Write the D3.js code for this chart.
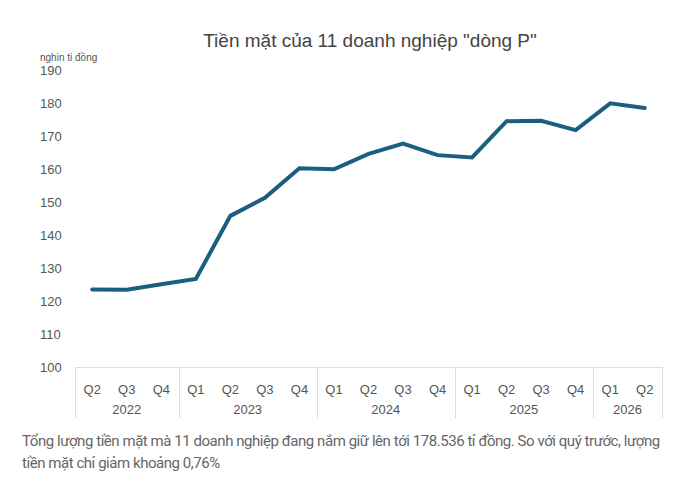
<!DOCTYPE html>
<html>
<head>
<meta charset="utf-8">
<script src="https://cdn.jsdelivr.net/npm/d3@7"></script>
<style>
  html, body { margin: 0; padding: 0; background: #fff; }
  #chart { width: 693px; height: 481px; position: relative; }
  .note {
    position: absolute; left: 22px; top: 430px; width: 662px;
    font-family: "Roboto", "Liberation Sans", sans-serif;
    font-size: 15px; line-height: 22px; color: #666;
    letter-spacing: -0.45px;
  }
</style>
</head>
<body>
<div id="chart"></div>
<script>
// Dữ liệu: tiền mặt (nghìn tỉ đồng) theo quý
const quarters = ["Q2","Q3","Q4","Q1","Q2","Q3","Q4","Q1","Q2","Q3","Q4","Q1","Q2","Q3","Q4","Q1","Q2"];
const years    = ["2022","2022","2022","2023","2023","2023","2023","2024","2024","2024","2024","2025","2025","2025","2025","2026","2026"];
const cash     = [123.5, 123.4, 125.1, 126.7, 145.8, 151.3, 160.2, 159.9, 164.6, 167.7, 164.2, 163.5, 174.5, 174.6, 171.8, 179.9, 178.5];
const yTicks   = [100, 110, 120, 130, 140, 150, 160, 170, 180, 190];

const W = 693, H = 481;
const margin = { top: 70, right: 31, bottom: 114, left: 75 };
const width  = W - margin.left - margin.right;
const height = H - margin.top - margin.bottom;

const root = d3.select("#chart");
const svg = root.append("svg").attr("width", W).attr("height", H);

// ==== Tiêu đề ====
svg.append("text")
  .attr("x", 370).attr("y", 47)
  .attr("text-anchor", "middle")
  .style("font-family", "Liberation Sans, Arial, sans-serif")
  .style("font-size", "19px")
  .style("fill", "#444")
  .text('Tiền mặt của 11 doanh nghiệp "dòng P"');

svg.append("text")
  .attr("x", 40).attr("y", 61)
  .style("font-family", "Liberation Sans, Arial, sans-serif")
  .style("font-size", "10px")
  .style("fill", "#555")
  .text("nghin ti đồng");

const g = svg.append("g").attr("transform", `translate(${margin.left},${margin.top})`);

const keys = quarters.map((q, i) => i);
const x = d3.scaleBand().domain(keys).range([0, width]).padding(0);
const y = d3.scaleLinear().domain([100, 190]).range([height, 0]);

// ==== Trục Y (chỉ nhãn) ====
const yAxis = g.append("g")
  .call(d3.axisLeft(y).tickValues(yTicks).tickSize(0).tickPadding(0));
yAxis.select(".domain").remove();
yAxis.selectAll("text")
  .attr("x", 40 - margin.left)
  .attr("text-anchor", "start")
  .style("font-family", "Liberation Sans, Arial, sans-serif")
  .style("font-size", "13px")
  .style("fill", "#555");

// ==== Trục X: quý + năm ====
const axisCol = "#ddd";
g.append("line")
  .attr("x1", 0).attr("x2", width)
  .attr("y1", height + 0.5).attr("y2", height + 0.5)
  .attr("stroke", axisCol);

const xAxis = g.append("g")
  .attr("transform", `translate(0,${height})`)
  .call(d3.axisBottom(x).tickSize(0).tickPadding(18).tickFormat(i => quarters[i]));
xAxis.select(".domain").remove();
xAxis.selectAll("text")
  .style("font-family", "Liberation Sans, Arial, sans-serif")
  .style("font-size", "13px")
  .style("fill", "#555");

const yearGroups = d3.groups(keys, i => years[i]);
const bounds = [0];
yearGroups.forEach(([yr, idx]) => {
  const x0 = x(idx[0]);
  const x1 = x(idx[idx.length - 1]) + x.bandwidth();
  bounds.push(x1);
  g.append("text")
    .attr("x", (x0 + x1) / 2)
    .attr("y", height + 47)
    .attr("text-anchor", "middle")
    .style("font-family", "Liberation Sans, Arial, sans-serif")
    .style("font-size", "13px")
    .style("fill", "#555")
    .text(yr);
});
g.selectAll(".sep")
  .data(bounds)
  .enter().append("line")
    .attr("class", "sep")
    .attr("x1", d => Math.round(d) + 0.5).attr("x2", d => Math.round(d) + 0.5)
    .attr("y1", height).attr("y2", height + 51)
    .attr("stroke", axisCol);

// ==== Đường ====
const line = d3.line()
  .x((d, i) => x(i) + x.bandwidth() / 2)
  .y(d => y(d));

g.append("path")
  .datum(cash)
  .attr("d", line)
  .attr("fill", "none")
  .attr("stroke", "#1b5f80")
  .attr("stroke-width", 4)
  .attr("stroke-linejoin", "miter")
  .attr("stroke-linecap", "round");

// ==== Chú thích ====
root.append("div")
  .attr("class", "note")
  .text("Tổng lượng tiền mặt mà 11 doanh nghiệp đang nắm giữ lên tới 178.536 tỉ đồng. So với quý trước, lượng tiền mặt chỉ giảm khoảng 0,76%");
</script>
</body>
</html>
